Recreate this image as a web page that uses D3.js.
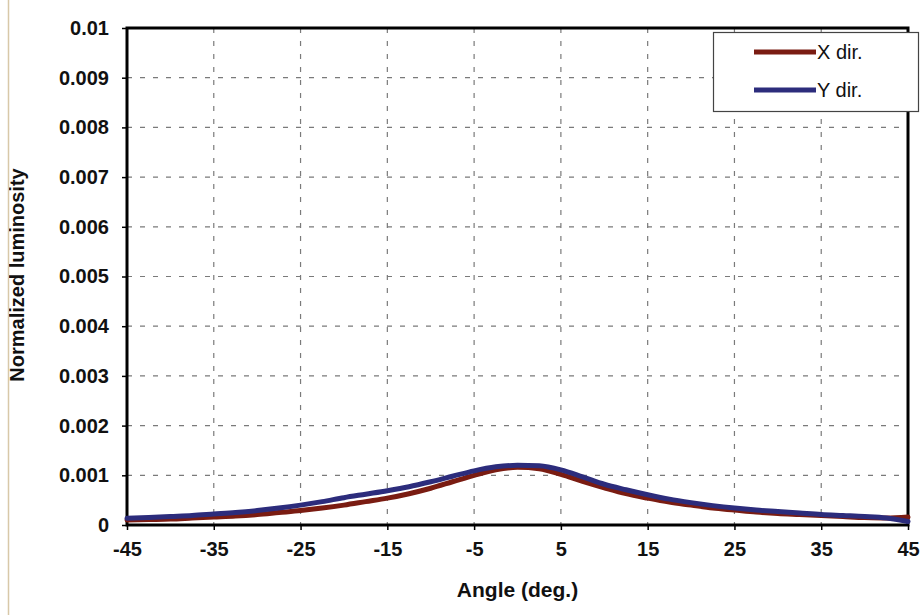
<!DOCTYPE html>
<html>
<head>
<meta charset="utf-8">
<script src="https://cdn.jsdelivr.net/npm/d3@7"></script>
<style>
  html, body { margin: 0; padding: 0; background: #fff; }
  svg { display: block; }
  text { font-family: "Liberation Sans", Arial, sans-serif; }
</style>
</head>
<body>
<svg id="chart" width="921" height="615"></svg>
<script>
// ---- data ----
const angles = [-45, -42.5, -40, -37.5, -35, -32.5, -30, -27.5, -25, -22.5, -20, -17.5, -15, -12.5, -10, -7.5, -5, -2.5,
  0, 2.5, 5, 7.5, 10, 12.5, 15, 17.5, 20, 22.5, 25, 27.5, 30, 32.5, 35, 37.5, 40, 42.5, 45];
const xDir = [0.00010, 0.00011, 0.00012, 0.00014, 0.00016, 0.00018, 0.00021, 0.00025, 0.00029, 0.00034, 0.00040, 0.00047,
  0.00054, 0.00063, 0.00074, 0.00087, 0.00100, 0.00111, 0.00116, 0.00113, 0.00102, 0.00088, 0.00075, 0.00063, 0.00054,
  0.00046, 0.00040, 0.00034, 0.00030, 0.00026, 0.00023, 0.00021, 0.00019, 0.00017, 0.00015, 0.00014, 0.00016];
const yDir = [0.000135, 0.00015, 0.00017, 0.00019, 0.00022, 0.00025, 0.00029, 0.00034, 0.00040, 0.00047, 0.00055, 0.00062,
  0.00069, 0.00077, 0.00087, 0.00098, 0.00109, 0.00117, 0.00120, 0.00119, 0.00111, 0.00097, 0.00082, 0.00071, 0.00061,
  0.00052, 0.00045, 0.00039, 0.00034, 0.00030, 0.00027, 0.00024, 0.00021, 0.00019, 0.00017, 0.00014, 0.00007];
const xTicks = [-45, -35, -25, -15, -5, 5, 15, 25, 35, 45];
const xTickLabels = ["-45", "-35", "-25", "-15", "-5", "5", "15", "25", "35", "45"];
const yTicks = [0, 0.001, 0.002, 0.003, 0.004, 0.005, 0.006, 0.007, 0.008, 0.009, 0.01];
const yTickLabels = ["0", "0.001", "0.002", "0.003", "0.004", "0.005", "0.006", "0.007", "0.008", "0.009", "0.01"];
const seriesNames = ["X dir.", "Y dir."];
const seriesColors = ["#7a1c12", "#2c2c7c"];
const xTitle = "Angle (deg.)";
const yTitle = "Normalized luminosity";

// ---- layout ----
const svg = d3.select("#chart");
const L = 127, R = 908, T = 28, B = 525;
const x = d3.scaleLinear().domain([-45, 45]).range([L, R]);
const y = d3.scaleLinear().domain([0, 0.01]).range([B, T]);

// scan edge line
svg.append("line").attr("x1", 8.5).attr("x2", 8.5).attr("y1", 0).attr("y2", 615)
  .attr("stroke", "#d8c8a8").attr("stroke-width", 1.5);

// gridlines
const grid = svg.append("g");
grid.selectAll("line.h").data(yTicks.filter(d => d > 0 && d < 0.01)).join("line")
  .attr("x1", L).attr("x2", R).attr("y1", d => y(d)).attr("y2", d => y(d))
  .attr("stroke", "#7a7a7a").attr("stroke-width", 1.2).attr("stroke-dasharray", "5,8");
grid.selectAll("line.v").data(xTicks.filter(d => d > -45 && d < 45)).join("line")
  .attr("x1", d => x(d)).attr("x2", d => x(d)).attr("y1", T).attr("y2", B)
  .attr("stroke", "#7a7a7a").attr("stroke-width", 1.2).attr("stroke-dasharray", "5,8");

// y axis
const yAxis = d3.axisLeft(y).tickValues(yTicks).tickFormat((d, i) => yTickLabels[i]).tickSize(5).tickPadding(13);
const gy = svg.append("g").attr("transform", `translate(${L},0)`).call(yAxis);
gy.select(".domain").remove();
gy.selectAll(".tick line").attr("stroke", "#000").attr("stroke-width", 1.5);
gy.selectAll(".tick text").attr("font-size", 20).attr("font-weight", "bold").attr("fill", "#111")
  .attr("font-family", "Liberation Sans, Arial, sans-serif");

// x axis
const xAxis = d3.axisBottom(x).tickValues(xTicks).tickFormat((d, i) => xTickLabels[i]).tickSize(5).tickPadding(12);
const gx = svg.append("g").attr("transform", `translate(0,${B})`).call(xAxis);
gx.select(".domain").remove();
gx.selectAll(".tick line").attr("stroke", "#000").attr("stroke-width", 1.5);
gx.selectAll(".tick text").attr("font-size", 20).attr("font-weight", "bold").attr("fill", "#111")
  .attr("font-family", "Liberation Sans, Arial, sans-serif");

// frame
svg.append("rect").attr("x", L).attr("y", T).attr("width", R - L).attr("height", B - T)
  .attr("fill", "none").attr("stroke", "#000").attr("stroke-width", 3);

// lines
const line = d3.line().x(d => x(d[0])).y(d => y(d[1])).curve(d3.curveMonotoneX);
[xDir, yDir].forEach((vals, i) => {
  svg.append("path").datum(angles.map((a, j) => [a, vals[j]]))
    .attr("d", line).attr("fill", "none").attr("stroke", seriesColors[i])
    .attr("stroke-width", 5).attr("stroke-linejoin", "round").attr("stroke-linecap", "round");
});

// axis titles
svg.append("text").attr("x", (L + R) / 2).attr("y", 597).attr("text-anchor", "middle")
  .attr("font-size", 21).attr("font-weight", "bold").attr("fill", "#111").text(xTitle);
svg.append("defs").append("clipPath").attr("id", "edge").attr("clipPathUnits", "userSpaceOnUse")
  .append("rect").attr("x", 9).attr("y", 0).attr("width", 100).attr("height", 615);
svg.append("g").attr("clip-path", "url(#edge)")
  .append("text")
  .attr("transform", "translate(24,275) rotate(-90)").attr("text-anchor", "middle")
  .attr("font-size", 20).attr("font-weight", "bold").attr("fill", "#111").text(yTitle);

// legend
const lg = svg.append("g");
lg.append("rect").attr("x", 713.5).attr("y", 32.5).attr("width", 205).attr("height", 79)
  .attr("fill", "#fff").attr("stroke", "#444").attr("stroke-width", 1.2);
seriesNames.forEach((n, i) => {
  const yy = 52 + i * 38;
  lg.append("line").attr("x1", 754).attr("x2", 816).attr("y1", yy).attr("y2", yy)
    .attr("stroke", seriesColors[i]).attr("stroke-width", 5);
  lg.append("text").attr("x", 817).attr("y", yy + 7).attr("font-size", 20).attr("fill", "#111").text(n);
});
</script>
</body>
</html>
